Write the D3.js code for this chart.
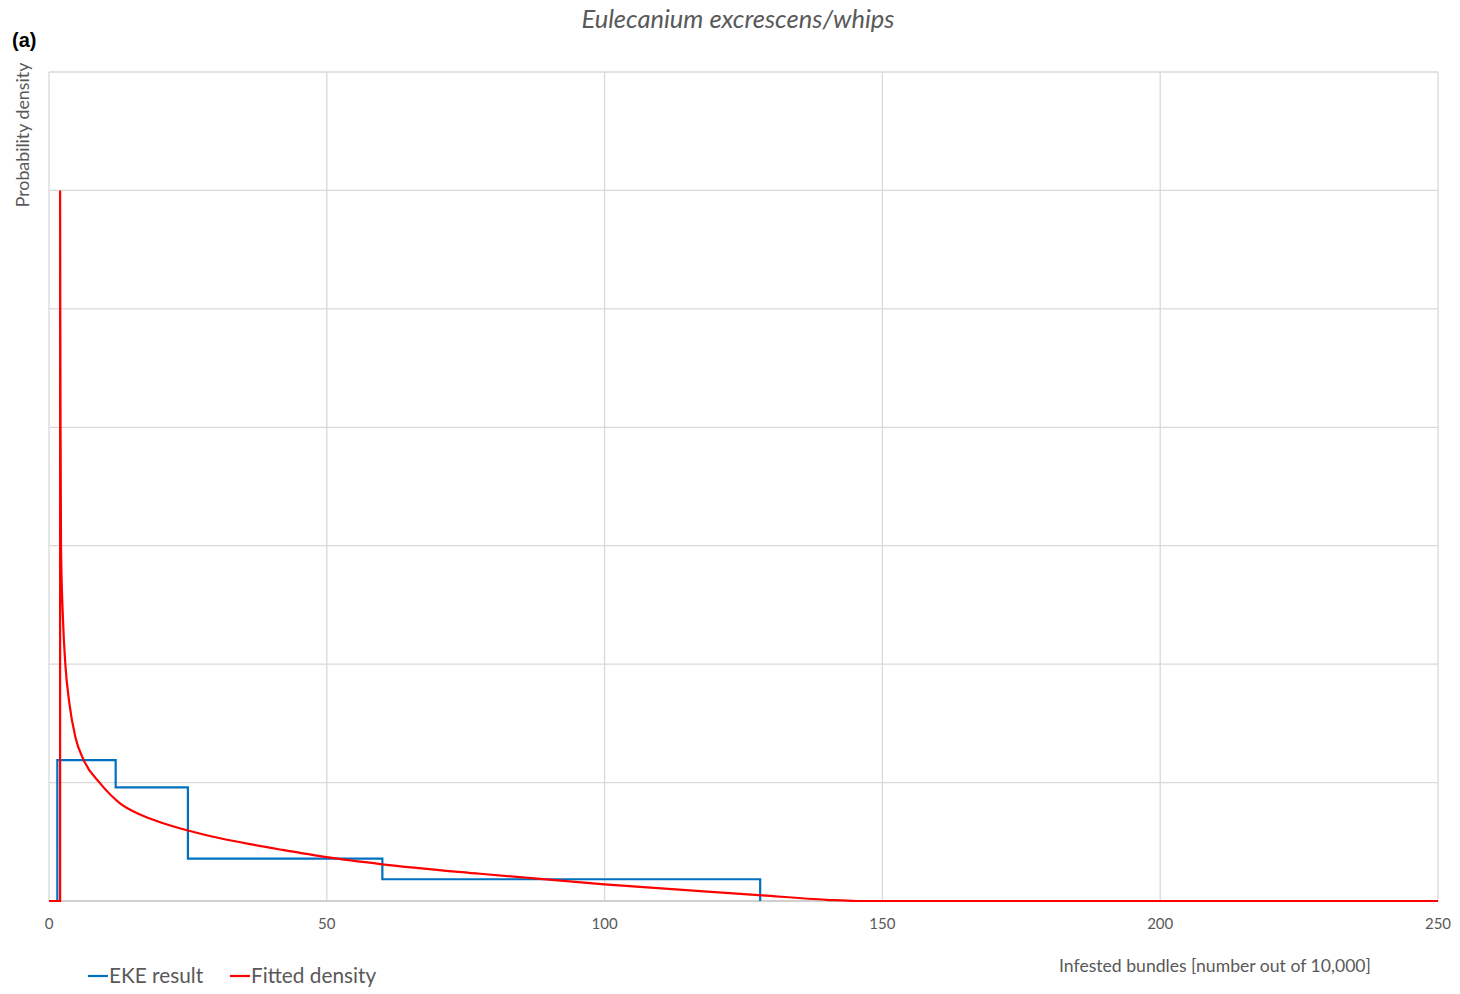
<!DOCTYPE html>
<html><head><meta charset="utf-8">
<script src="https://cdn.jsdelivr.net/npm/d3@7"></script>
<style>
html,body{margin:0;padding:0;background:#fff;}
svg text{font-family:Lato,"Open Sans",sans-serif;}
</style></head>
<body>
<svg id="chart" width="1460" height="994"></svg>
<script>
// Data
const xTicks = [0, 50, 100, 150, 200, 250];
const yGrid = [0, 0.02, 0.04, 0.06, 0.08, 0.10, 0.12, 0.14];
// EKE result step histogram (bin edges and densities)
const ekeEdges = [1.5, 12, 25, 60, 128];
const ekeDensity = [0.0238, 0.0192, 0.00714, 0.00367];
// Fitted density curve
const fitX = [0, 2, 2, 2.03, 2.08, 2.16, 2.52, 2.94, 3.66, 4.74, 6.24, 9.18, 12.78, 16.4, 20, 25, 30.8, 36.2, 41.6, 50, 60, 77.6, 100, 127.7, 140, 145.4, 250];
const fitY = [0, 0, 0.12, 0.10, 0.08, 0.06, 0.0475, 0.04, 0.0334, 0.0277, 0.0238, 0.0199, 0.0165, 0.0146, 0.0133, 0.0119, 0.0106, 0.0096, 0.0087, 0.0074, 0.0062, 0.0046, 0.0028, 0.001, 0.0002, 0, 0];

const svg = d3.select("#chart");
const L = 49, R = 1438, T = 72, B = 901;
const x = d3.scaleLinear().domain([0, 250]).range([L, R]);
const y = d3.scaleLinear().domain([0, 0.14]).range([B, T]);

// gridlines
const g = svg.append("g");
g.selectAll(".hg").data(yGrid).join("line")
  .attr("x1", L).attr("x2", R).attr("y1", d => y(d)).attr("y2", d => y(d))
  .attr("stroke", d => d === 0 ? "#bfbfbf" : "#d9d9d9").attr("stroke-width", 1.3);
g.selectAll(".vg").data(xTicks).join("line")
  .attr("x1", d => x(d)).attr("x2", d => x(d)).attr("y1", T).attr("y2", B)
  .attr("stroke", "#d9d9d9").attr("stroke-width", 1.3);

// x axis tick labels
svg.append("g").selectAll("text").data(xTicks).join("text")
  .attr("x", d => x(d)).attr("y", 929).attr("text-anchor", "middle")
  .attr("font-size", 15).attr("fill", "#595959").text(d => d);

// EKE step line
const ekePts = [[ekeEdges[0], 0]];
ekeDensity.forEach((v, i) => { ekePts.push([ekeEdges[i], v]); ekePts.push([ekeEdges[i + 1], v]); });
ekePts.push([ekeEdges[ekeEdges.length - 1], 0]);
const line = d3.line().x(d => x(d[0])).y(d => y(d[1]));
svg.append("path").attr("d", line(ekePts)).attr("fill", "none")
  .attr("stroke", "#0070C0").attr("stroke-width", 2.2).attr("stroke-linejoin", "miter");

// Fitted density
const fitPts = fitX.map((v, i) => [v, fitY[i]]);
const curve = d3.line().x(d => x(d[0])).y(d => y(d[1])).curve(d3.curveMonotoneX);
svg.append("path").attr("d", curve(fitPts)).attr("fill", "none")
  .attr("stroke", "#FF0000").attr("stroke-width", 2.2);

// Title
svg.append("text").attr("x", 738).attr("y", 28).attr("text-anchor", "middle")
  .attr("font-size", 25.5).attr("font-style", "italic").attr("fill", "#595959")
  .text("Eulecanium excrescens/whips");
// (a)
svg.append("text").attr("x", 12).attr("y", 47)
  .style("font-family", "'Liberation Sans',Arial,sans-serif")
  .attr("font-size", 20).attr("font-weight", "bold").attr("fill", "#000").text("(a)");
// y label
svg.append("text").attr("transform", "translate(29,135) rotate(-90)")
  .attr("text-anchor", "middle").attr("font-size", 17.8).attr("fill", "#595959")
  .text("Probability density");
// x label
svg.append("text").attr("x", 1215).attr("y", 972).attr("text-anchor", "middle")
  .attr("font-size", 17.6).attr("fill", "#595959")
  .text("Infested bundles [number out of 10,000]");

// legend
const legend = [{name: "EKE result", color: "#0070C0", x: 88}, {name: "Fitted density", color: "#FF0000", x: 230}];
const lg = svg.append("g").selectAll("g").data(legend).join("g");
lg.append("line").attr("x1", d => d.x).attr("x2", d => d.x + 20).attr("y1", 976).attr("y2", 976)
  .attr("stroke", d => d.color).attr("stroke-width", 2.2);
lg.append("text").attr("x", d => d.x + 21).attr("y", 983).attr("font-size", 20.8)
  .attr("fill", "#595959").text(d => d.name);
</script>
</body></html>
